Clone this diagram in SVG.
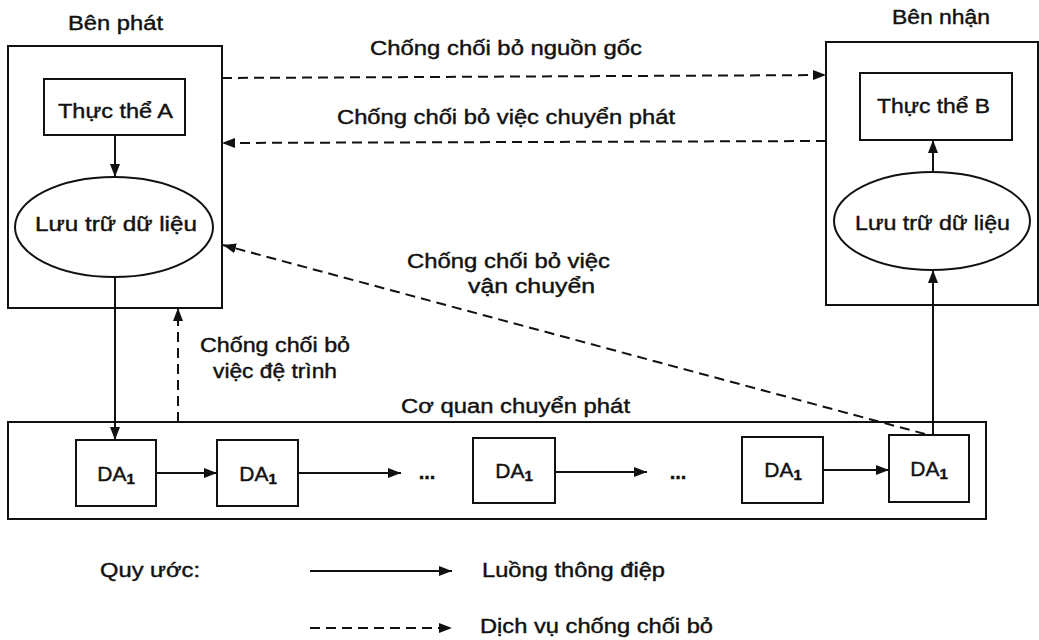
<svg xmlns="http://www.w3.org/2000/svg" width="1039" height="640" viewBox="0 0 1039 640">
<style>
  text { font-family: "Liberation Sans", Arial, sans-serif; font-size: 20px; fill: #111; stroke: #111; stroke-width: 0.4; }
  .box { fill: none; stroke: #111; stroke-width: 2; }
  .ell { fill: #fff; stroke: #111; stroke-width: 2; }
  .solid { stroke: #111; stroke-width: 2; fill: none; marker-end: url(#ah); }
  .dash { stroke: #111; stroke-width: 2; fill: none; stroke-dasharray: 10 6; marker-end: url(#ah); }
  .da { font-size: 21px; text-anchor: middle; }
  .sub { font-size: 15px; font-weight: bold; }
</style>
<defs>
  <marker id="ah" viewBox="0 0 13 10" refX="13" refY="5" markerWidth="13" markerHeight="10" markerUnits="userSpaceOnUse" orient="auto">
    <path d="M0,0 L13,5 L0,10 z" fill="#111"/>
  </marker>
</defs>
<rect width="1039" height="640" fill="#fff"/>

<g id="sender">
  <rect class="box" x="8" y="46" width="214" height="262"/>
  <text x="68" y="30" textLength="95" lengthAdjust="spacingAndGlyphs">Bên phát</text>
</g>
<g id="entityA">
  <rect class="box" x="44" y="79" width="141" height="56"/>
  <text x="58" y="118" textLength="115" lengthAdjust="spacingAndGlyphs">Thực thể A</text>
</g>
<g id="storeA">
  <ellipse class="ell" cx="114" cy="227" rx="99" ry="50"/>
  <text x="35" y="231" textLength="162" lengthAdjust="spacingAndGlyphs">Lưu trữ dữ liệu</text>
</g>

<g id="receiver">
  <rect class="box" x="826" y="42" width="212" height="263"/>
  <text x="892" y="24" textLength="98" lengthAdjust="spacingAndGlyphs">Bên nhận</text>
</g>
<g id="entityB">
  <rect class="box" x="860" y="73" width="152" height="67"/>
  <text x="877" y="113" textLength="113" lengthAdjust="spacingAndGlyphs">Thực thể B</text>
</g>
<g id="storeB">
  <ellipse class="ell" cx="932" cy="221" rx="98" ry="49"/>
  <text x="855" y="230" textLength="155" lengthAdjust="spacingAndGlyphs">Lưu trữ dữ liệu</text>
</g>

<g id="agency">
  <rect class="box" x="8" y="422" width="978" height="97"/>
  <text x="401" y="413" textLength="229" lengthAdjust="spacingAndGlyphs">Cơ quan chuyển phát</text>
</g>
<g id="da1">
  <rect class="box" x="76" y="440" width="80" height="66"/>
  <text class="da" x="116" y="481">DA<tspan class="sub" dy="3">1</tspan></text>
</g>
<g id="da2">
  <rect class="box" x="217" y="440" width="81" height="66"/>
  <text class="da" x="258" y="481">DA<tspan class="sub" dy="3">1</tspan></text>
</g>
<g id="da3">
  <rect class="box" x="473" y="438" width="82" height="65"/>
  <text class="da" x="514" y="478">DA<tspan class="sub" dy="3">1</tspan></text>
</g>
<g id="da4">
  <rect class="box" x="742" y="437" width="81" height="66"/>
  <text class="da" x="783" y="477">DA<tspan class="sub" dy="3">1</tspan></text>
</g>
<g id="da5">
  <rect class="box" x="889" y="435" width="80" height="67"/>
  <text class="da" x="929" y="476">DA<tspan class="sub" dy="3">1</tspan></text>
</g>
<g id="dots">
  <text x="427" y="479" text-anchor="middle" font-weight="bold">...</text>
  <text x="678" y="479" text-anchor="middle" font-weight="bold">...</text>
</g>

<g id="connectors">
  <line class="solid" x1="115" y1="135" x2="115" y2="177"/>
  <line class="solid" x1="115" y1="277" x2="115" y2="440"/>
  <line class="solid" x1="156" y1="473" x2="217" y2="473"/>
  <line class="solid" x1="298" y1="473" x2="401" y2="473"/>
  <line class="solid" x1="555" y1="472" x2="647" y2="472"/>
  <line class="solid" x1="823" y1="470" x2="889" y2="470"/>
  <line class="solid" x1="933" y1="435" x2="933" y2="270"/>
  <line class="solid" x1="933" y1="172" x2="933" y2="140"/>
  <line class="dash" x1="222" y1="78" x2="826" y2="75"/>
  <line class="dash" x1="826" y1="141" x2="222" y2="143"/>
  <line class="dash" x1="925" y1="434" x2="223" y2="245"/>
  <line class="dash" x1="178" y1="422" x2="178" y2="308"/>
</g>

<g id="labels">
  <text x="370" y="55" textLength="272" lengthAdjust="spacingAndGlyphs">Chống chối bỏ nguồn gốc</text>
  <text x="337" y="124" textLength="338" lengthAdjust="spacingAndGlyphs">Chống chối bỏ việc chuyển phát</text>
  <text x="407" y="268" textLength="203" lengthAdjust="spacingAndGlyphs">Chống chối bỏ việc</text>
  <text x="468" y="293" textLength="127" lengthAdjust="spacingAndGlyphs">vận chuyển</text>
  <text x="200" y="352" textLength="150" lengthAdjust="spacingAndGlyphs">Chống chối bỏ</text>
  <text x="213" y="378" textLength="124" lengthAdjust="spacingAndGlyphs">việc đệ trình</text>
</g>

<g id="legend">
  <text x="100" y="577" textLength="100" lengthAdjust="spacingAndGlyphs">Quy ước:</text>
  <line class="solid" x1="310" y1="571" x2="452" y2="571"/>
  <text x="482" y="577" textLength="183" lengthAdjust="spacingAndGlyphs">Luồng thông điệp</text>
  <line class="dash" x1="310" y1="628" x2="452" y2="628"/>
  <text x="480" y="633" textLength="233" lengthAdjust="spacingAndGlyphs">Dịch vụ chống chối bỏ</text>
</g>
</svg>
